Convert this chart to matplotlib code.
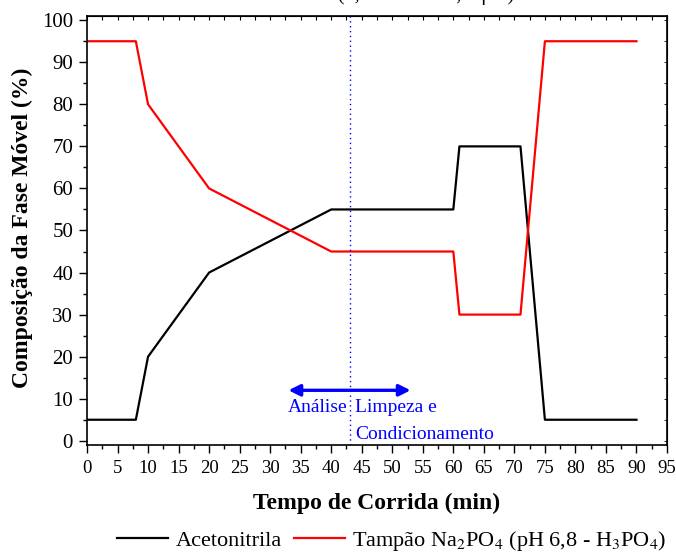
import matplotlib
matplotlib.use("Agg")
import matplotlib.pyplot as plt
from matplotlib.ticker import MultipleLocator

plt.rcParams['font.family'] = ['Liberation Serif', 'DejaVu Serif']
plt.rcParams['mathtext.fontset'] = 'stix'

# gradiente da fase movel
tempo = [0, 8, 10, 20, 40, 60, 61, 71, 75, 90]
acetonitrila = [5, 5, 20, 40, 55, 55, 70, 70, 5, 5]
tampao = [95, 95, 80, 60, 45, 45, 30, 30, 95, 95]

t_limpeza = 43
seta_x = [33, 53]
seta_y = 12

fig = plt.figure(figsize=(6.76, 5.54), dpi=100)
ax = fig.add_axes([0.1287, 0.1968, 0.858, 0.7743])

ax.plot(tempo, acetonitrila, color="black", lw=1.6, label="Acetonitrila")
ax.plot(tempo, tampao, color="red", lw=1.6,
        label=r"Tampão Na$_2$PO$_4$ (pH 6,8 - H$_3$PO$_4$)")

ax.axvline(t_limpeza, color="blue", ls=(0, (1, 2.5)), lw=1.0)
ax.annotate("", xy=(seta_x[0], seta_y), xytext=(seta_x[1], seta_y),
            arrowprops=dict(arrowstyle="<|-|>", color="blue", lw=2.4,
                            mutation_scale=17, shrinkA=0, shrinkB=0))
ax.text(t_limpeza - 0.3, 7.9, "Análise", color="blue", fontsize=14,
        ha="right", va="center")
ax.text(t_limpeza + 0.9, 7.9, "Limpeza e", color="blue", fontsize=14,
        ha="left", va="center")
ax.text(t_limpeza + 0.9, 1.6, "Condicionamento", color="blue", fontsize=14,
        ha="left", va="center")

ax.set_xlim(0, 95)
ax.set_ylim(-1, 101)
ax.xaxis.set_major_locator(MultipleLocator(5))
ax.xaxis.set_minor_locator(MultipleLocator(2.5))
ax.yaxis.set_major_locator(MultipleLocator(10))
ax.yaxis.set_minor_locator(MultipleLocator(5))
ax.tick_params(which="both", direction="out", top=False, right=False, width=1.0)
ax.tick_params(axis="x", labelsize=13.5, pad=5)
ax.tick_params(axis="y", labelsize=15, pad=4)
ax.tick_params(which="major", length=6)
ax.tick_params(which="minor", length=3)
for s in ax.spines.values():
    s.set_linewidth(1.2)

# ticks internos em cima e a direita
sec_x = ax.secondary_xaxis("top")
sec_x.xaxis.set_major_locator(MultipleLocator(5))
sec_x.xaxis.set_minor_locator(MultipleLocator(2.5))
sec_x.tick_params(which="both", direction="in", labeltop=False, length=3, width=0.8)
sec_y = ax.secondary_yaxis("right")
sec_y.yaxis.set_major_locator(MultipleLocator(10))
sec_y.yaxis.set_minor_locator(MultipleLocator(5))
sec_y.tick_params(which="both", direction="in", labelright=False, length=2, width=0.6)

ax.set_xlabel("Tempo de Corrida (min)", fontsize=17, fontweight="bold")
ax.set_ylabel("Composição da Fase Móvel (%)", fontsize=17, fontweight="bold")
ax.xaxis.set_label_coords(0.5, -0.112)
ax.yaxis.set_label_coords(-0.093, 0.506)

# titulo cortado no topo da figura (como na figura original)
fig.text(0.555, 0.9995, "Coluna C18 (4,6 x 250 mm, 5 μm)", fontsize=14.5,
         ha="center", va="baseline")

fig.legend(loc="center", bbox_to_anchor=(0.58, 0.023), ncol=2,
           frameon=False, fontsize=16, handlelength=2.3, columnspacing=0.5,
           handletextpad=0.35)

fig.savefig("out.png", dpi=100)
